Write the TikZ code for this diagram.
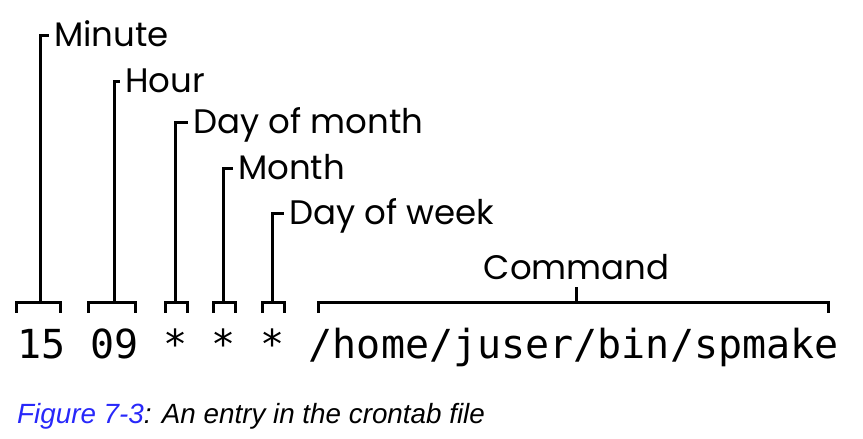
\documentclass[tikz,border=0pt]{standalone}
\usepackage{fontspec}
\setmainfont{Poppins}
\newfontfamily\codefont{DejaVu Sans Mono}
\newfontfamily\capfont{Liberation Sans}
\definecolor{figblue}{RGB}{40,40,250}
\tikzstyle{field} = [inner sep=0pt, anchor=base west, text height=30pt, text depth=9pt, font={\codefont\fontsize{40}{48}\selectfont}]
\tikzstyle{lbl} = [inner ysep=0pt, inner xsep=5pt, anchor=west, text height=23pt, text depth=0pt, font={\fontsize{34}{40}\selectfont}]
\tikzstyle{brk} = [line width=3pt]

\begin{document}
\begin{tikzpicture}[x=1pt,y=-1pt]
        \useasboundingbox (0,0) rectangle (863,439);
        \node[field](f0) at (17,358){15};
        \node[field](f1) at (90,358){09};
        \node[field](f2) at (163,358){*};
        \node[field](f3) at (211,358){*};
        \node[field](f4) at (260,358){*};
        \node[field](f5) at (308.6,358){/home/juser/bin/spmake};
        \node[lbl](minute) at (49,35){Minute};
        \node[lbl](hour) at (120,81){Hour};
        \node[lbl](dom) at (188,122){Day of month};
        \node[lbl](month) at (233,168){Month};
        \node[lbl](dow) at (284,213){Day of week};
        \draw[brk]([xshift=-1pt,yshift=15pt]f0.north west)|-([xshift=-1pt,yshift=25pt]f0.north)coordinate(t0)-|([xshift=-5pt,yshift=15pt]f0.north east);
        \draw[brk]([xshift=-2pt,yshift=15pt]f1.north west)|-([yshift=25pt]f1.north)coordinate(t1)-|([xshift=-3pt,yshift=15pt]f1.north east);
        \draw[brk]([xshift=2pt,yshift=15pt]f2.north west)|-([yshift=25pt]f2.north)coordinate(t2)-|([yshift=15pt]f2.north east);
        \draw[brk]([xshift=2pt,yshift=15pt]f3.north west)|-([yshift=25pt]f3.north)coordinate(t3)-|([yshift=15pt]f3.north east);
        \draw[brk]([xshift=2pt,yshift=15pt]f4.north west)|-([yshift=25pt]f4.north)coordinate(t4)-|([yshift=15pt]f4.north east);
        \draw[brk]([xshift=10pt,yshift=15pt]f5.north west)|-([xshift=3pt,yshift=25pt]f5.north)coordinate(t5)-|([xshift=-10pt,yshift=15pt]f5.north east);
        \node[lbl,anchor=south,inner ysep=7pt](cmd) at ([yshift=16pt]t5){Command};
        \draw[brk](t0)|-(minute.west);
        \draw[brk](t1)|-(hour.west);
        \draw[brk](t2)|-(dom.west);
        \draw[brk](t3)|-(month.west);
        \draw[brk](t4)|-(dow.west);
        \draw[brk](t5)--(cmd.south);
        \node[anchor=base west, inner sep=0pt, font={\capfont\itshape\fontsize{27.8}{33}\selectfont}](cap) at (17,423){\textcolor{figblue}{Figure 7-3}: An entry in the crontab file};
      \end{tikzpicture}
\end{document}
